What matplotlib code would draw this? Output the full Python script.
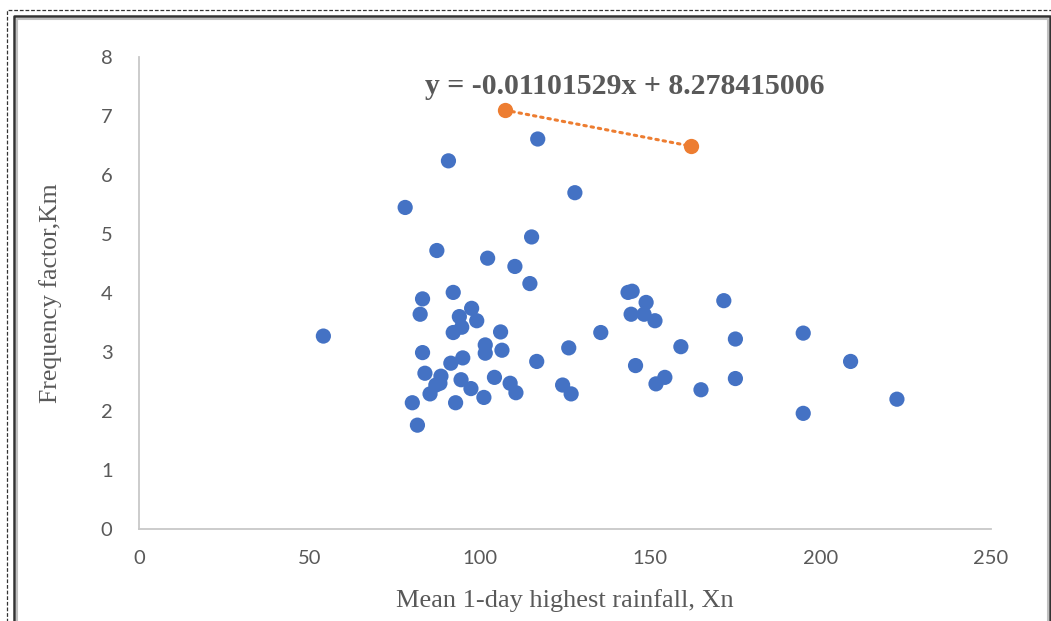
import matplotlib.pyplot as plt
from matplotlib.lines import Line2D

# observed points: mean 1-day highest rainfall (Xn) vs frequency factor (Km)
xn = [54.1, 78.1, 90.8, 87.4, 102.3, 110.3, 115.2, 114.7, 117.0, 127.9,
      83.2, 82.5, 92.2, 97.6, 99.1, 94.0, 94.7, 92.2, 106.1, 101.6,
      101.6, 106.5, 83.2, 95.0, 91.5, 83.9, 88.6, 88.3, 87.1, 85.4,
      80.2, 81.7, 94.5, 97.4, 92.9, 101.2, 104.3, 108.9, 110.6, 116.7,
      126.1, 124.3, 126.8, 135.5, 143.5, 144.7, 148.8, 144.4, 148.2, 151.4,
      145.7, 151.7, 154.3, 159.0, 164.9, 171.6, 175.0, 175.0, 194.9, 194.9,
      208.8, 222.4]
km = [3.27, 5.45, 6.24, 4.72, 4.59, 4.45, 4.95, 4.16, 6.61, 5.70,
      3.90, 3.64, 4.01, 3.74, 3.53, 3.60, 3.42, 3.33, 3.34, 3.12,
      2.98, 3.03, 2.99, 2.90, 2.81, 2.64, 2.59, 2.47, 2.44, 2.29,
      2.14, 1.76, 2.53, 2.38, 2.14, 2.23, 2.57, 2.47, 2.31, 2.84,
      3.07, 2.44, 2.29, 3.33, 4.01, 4.03, 3.84, 3.64, 3.64, 3.53,
      2.77, 2.46, 2.57, 3.09, 2.36, 3.87, 3.22, 2.55, 3.32, 1.96,
      2.84, 2.20]

# the two-point series drawn with a dotted line
trend_x = [107.3, 161.9]
trend_y = [7.10, 6.49]
equation = "y = -0.01101529x + 8.278415006"

W, H = 1051, 621
fig = plt.figure(figsize=(W / 100, H / 100), dpi=100)
ax = fig.add_axes([139 / W, 1 - 529 / H, (991 - 139) / W, (529 - 57) / H])

ax.scatter(xn, km, s=120, color="#4472C4", edgecolors="none", zorder=3)
ax.plot(trend_x, trend_y, color="#ED7D31", lw=2.2, linestyle=(0, (0.8, 1.6)),
        dash_capstyle="round", marker="o", markersize=11, markeredgewidth=0, zorder=4)

ax.set_xlim(0, 250)
ax.set_ylim(0, 8)
ax.set_xticks(range(0, 251, 50))
ax.set_yticks(range(0, 9))
for s in ["top", "right"]:
    ax.spines[s].set_visible(False)
for s in ["left", "bottom"]:
    ax.spines[s].set_color("#C8C8C8")
    ax.spines[s].set_linewidth(1.3)
ax.tick_params(length=0, labelsize=14.5, labelcolor="#595959", labelfontfamily="Lato")
ax.tick_params(axis="y", pad=19)
ax.tick_params(axis="x", pad=15)

ax.set_xlabel("Mean 1-day highest rainfall, Xn", family="Liberation Serif",
              fontsize=19, color="#595959", labelpad=16)
ax.set_ylabel("Frequency factor,Km", family="Liberation Serif",
              fontsize=18.5, color="#595959", labelpad=28)

fig.text(625 / W, 1 - 87 / H, equation, family="Liberation Serif", weight="bold",
         fontsize=21.4, color="#595959", ha="center", va="center")

# page frame: dashed outer line and solid inner border
def fx(px):
    return px / W

def fy(py):
    return 1 - py / H

fig.add_artist(Line2D([fx(7), fx(7), fx(1052)], [fy(622), fy(10), fy(10)],
                      color="#333333", lw=0.9, linestyle=(0, (3, 1.5))))
fig.add_artist(Line2D([fx(16.5), fx(16.5), fx(1047.5), fx(1047.5)],
                      [fy(622), fy(18.5), fy(18.5), fy(622)], color="#C0C0C0", lw=1.5))
fig.add_artist(Line2D([fx(14), fx(14), fx(1050), fx(1050)],
                      [fy(622), fy(16), fy(16), fy(622)], color="#333333", lw=1.8))

fig.savefig("out.png", dpi=100)
